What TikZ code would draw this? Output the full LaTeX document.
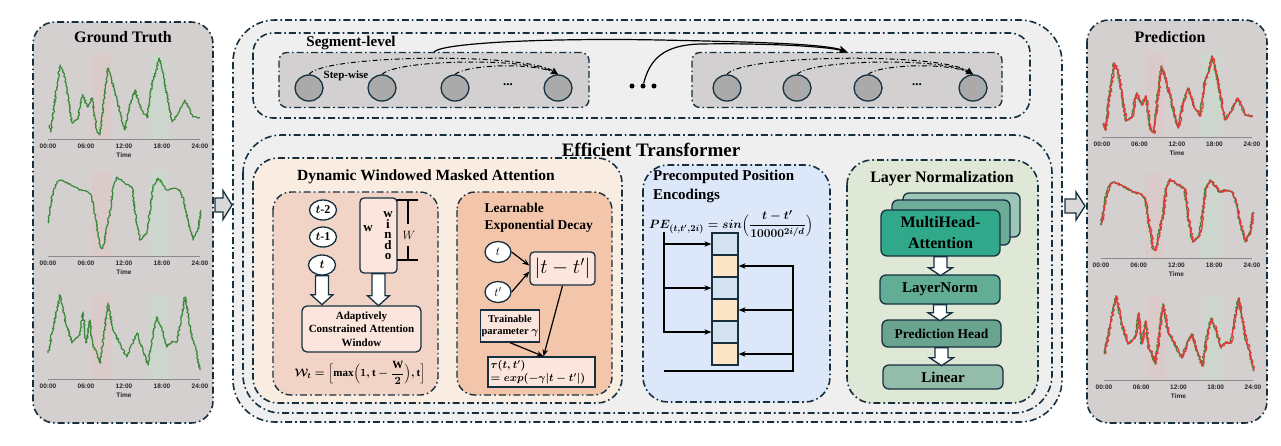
\documentclass[tikz,border=0pt]{standalone}
\usepackage{amsmath}
\usepackage{fontspec}
\setmainfont{Liberation Serif}
\setsansfont{Liberation Sans}
\usetikzlibrary{shapes.geometric,arrows.meta,decorations.pathmorphing,calc}
\definecolor{dk}{HTML}{163040}
\definecolor{sidegray}{HTML}{D4D0D0}
\definecolor{outergray}{HTML}{EFEFEF}
\definecolor{seggray}{HTML}{D2D0D0}
\definecolor{circgray}{HTML}{AAAAAA}
\definecolor{dynfill}{HTML}{F9ECE1}
\definecolor{dynleft}{HTML}{F2D4C7}
\definecolor{dynright}{HTML}{F3C5AA}
\definecolor{lightbox}{HTML}{FBE5DC}
\definecolor{pefill}{HTML}{DCE7FA}
\definecolor{lnfill}{HTML}{DFE8D6}
\definecolor{cellblue}{HTML}{D3E2EE}
\definecolor{cellyel}{HTML}{FAE6C4}
\definecolor{mhaA}{HTML}{2FA98A}
\definecolor{mhaB}{HTML}{6DAD97}
\definecolor{mhaC}{HTML}{9DC6B6}
\definecolor{lnbox}{HTML}{62AD95}
\definecolor{phbox}{HTML}{6BA48E}
\definecolor{linbox}{HTML}{94BCAA}
\definecolor{gtgreen}{HTML}{3A8A3A}
\definecolor{predred}{HTML}{E2383C}
\definecolor{bandpink}{HTML}{DBCACA}
\definecolor{bandgreen}{HTML}{CDD6CC}
\definecolor{axgray}{HTML}{8A8A8A}
\definecolor{sidearr}{HTML}{D9D9D9}

\newsavebox{\bxWt}
\newsavebox{\bxPE}
\newsavebox{\bxTau}
\newsavebox{\bxAbs}

% hollow block arrows: #1 start point, #2 length, #3 shaft half width, #4 head half width, #5 head length
\newcommand{\dArrow}[5]{\draw[blockarrow, shift={(#1)}] (-#3,0) -- (-#3,#2-#5) -- (-#4,#2-#5) -- (0,#2) -- (#4,#2-#5) -- (#3,#2-#5) -- (#3,0) -- cycle;}
\newcommand{\rArrow}[5]{\draw[blockarrow, fill=sidearr, shift={(#1)}] (0,-#3) -- (#2-#5,-#3) -- (#2-#5,-#4) -- (#2,0) -- (#2-#5,#4) -- (#2-#5,#3) -- (0,#3) -- cycle;}

\newcommand{\chartframe}{%
  \fill[bandpink] (44.33,-85) rectangle (63.33,0);
  \fill[bandgreen] (101.33,-85) rectangle (120.33,0);
  \draw[axgray, line width=0.9pt] (0,0) -- (152,0);
  \foreach \h/\lab in {0/00:00,38/06:00,76/12:00,114/18:00,152/24:00}
    \node[ticklab] (lab\h) at (\h,7) {\lab};
  \node[ticklab] (labtime) at (76,16) {Time};
}
\newcommand{\mycurveA}[1]{\draw[#1] plot coordinates {(1,-14) (3,-7) (7,-40) (12,-74) (15,-68) (18,-55) (21,-35) (24,-16) (30,-20) (33,-38) (35,-44) (38,-36) (40,-32) (44,-41) (47,-20) (49,-7) (52,-4) (56,-40) (60,-71) (64,-58) (69,-39) (73,-22) (77,-9) (82,-35) (87,-49) (93,-30) (99,-21) (104,-56) (108,-68) (111,-81) (114,-70) (118,-50) (124,-17) (130,-25) (137,-39) (145,-22) (152,-21)};}
\newcommand{\mycurveB}[1]{\draw[#1] plot coordinates {(0,-33) (4,-60) (9,-74) (12,-76) (22,-72) (32,-66) (40,-64) (44,-59) (49,-29) (52,-9) (55,-8) (58,-25) (62,-43) (65,-69) (69,-79) (76,-74) (84,-69) (87,-43) (92,-16) (99,-23) (102,-45) (105,-69) (110,-78) (119,-66) (125,-68) (132,-66) (136,-55) (139,-39) (145,-16) (150,-26) (153,-46)};}
\newcommand{\mycurveC}[1]{\draw[#1] plot coordinates {(0,-26) (6,-55) (12,-84) (18,-55) (24,-36) (32,-44) (35,-67) (38,-36) (42,-59) (45,-32) (48,-28) (52,-16) (56,-45) (60,-76) (65,-49) (72,-35) (79,-22) (84,-35) (89,-46) (95,-28) (100,-14) (104,-40) (109,-62) (114,-50) (119,-32) (124,-38) (129,-37) (133,-60) (137,-82) (141,-60) (144,-42) (148,-30) (152,-9)};}

\begin{document}
\sbox{\bxWt}{\fontsize{11}{13}\selectfont\boldmath$\mathcal{W}_{t}=\Bigl[\max\Bigl(1,\mathrm{t}-\dfrac{\mathrm{W}}{2}\Bigr),\mathrm{t}\Bigr]$}
\sbox{\bxPE}{\fontsize{13}{15}\selectfont\boldmath$PE_{(t,t',2i)}=sin\Bigl(\dfrac{t-t'}{10000^{2i/d}}\Bigr)$}
\sbox{\bxTau}{\fontsize{10.5}{13}\selectfont\boldmath\begin{tabular}{@{}l@{}}$\tau(t,t')$\\$=exp(-\gamma|t-t'|)$\end{tabular}}
\sbox{\bxAbs}{\fontsize{20}{20}\selectfont$|t-t'|$}
\begin{tikzpicture}[x=1pt,y=-1pt,
  dd/.style={draw=dk, line width=1.6pt, dash pattern=on 7pt off 3pt on 1.6pt off 3pt},
  ttl/.style={font=\bfseries\fontsize{16}{18}\selectfont},
  ticklab/.style={font=\sffamily\bfseries\fontsize{6.5}{7}\selectfont, text=black!85, inner sep=0pt},
  gtline/.style={gtgreen, line width=1.2pt, line join=round, decorate, decoration={random steps, segment length=1.1pt, amplitude=0.9pt}},
  prline/.style={predred, line width=1.2pt, line join=round, decorate, decoration={random steps, segment length=1.1pt, amplitude=1.2pt}},
  segbox/.style={dd, line width=1.4pt, fill=seggray, rounded corners=8pt, minimum width=310pt, minimum height=55pt},
  circ/.style={ellipse, draw=dk, line width=1.3pt, fill=circgray, minimum width=28pt, minimum height=26pt, inner sep=0pt},
  sarrow/.style={draw=black, line width=1pt, dash pattern=on 5pt off 2.5pt on 1pt off 2.5pt, -{Stealth[length=7pt,width=6pt]}},
  segarr/.style={draw=black, line width=1.2pt, -{Stealth[length=8pt,width=7pt]}},
  tok/.style={ellipse, draw=dk, line width=1.3pt, fill=white, minimum width=27pt, minimum height=20pt, inner sep=0pt, font=\bfseries\fontsize{12}{12}\selectfont},
  arr/.style={draw=black, line width=1.2pt, -{Stealth[length=7pt,width=5.5pt]}},
  plainbox/.style={draw=dk, line width=1.3pt},
  cell/.style={draw=dk, line width=1.2pt, minimum width=26pt, minimum height=22pt, inner sep=0pt},
  card/.style={draw=dk, line width=1.3pt, rounded corners=6pt},
  blockarrow/.style={draw=dk, line width=1.3pt, fill=white, line join=miter}
]
\pgfmathsetseed{7}
\useasboundingbox (0,0) rectangle (1281,445);

% ---------- side panels ----------
\draw[dd, fill=sidegray, rounded corners=22pt] (33,22) rectangle (213,423);
\draw[dd, fill=sidegray, rounded corners=22pt] (1087,20) rectangle (1267,423);
\node[ttl] (gtt) at (123,37) {Ground Truth};
\node[ttl] (prt) at (1170,37) {Prediction};

% ground truth charts
\begin{scope}[shift={(48,139)}] \chartframe \mycurveA{gtline} \end{scope}
\begin{scope}[shift={(48,256)}] \chartframe \mycurveB{gtline} \end{scope}
\begin{scope}[shift={(48,379)}] \chartframe \mycurveC{gtline} \end{scope}
% prediction charts
\begin{scope}[shift={(1102,137)}, xscale=0.987] \chartframe \mycurveA{gtline} \begin{scope}[xshift=0.8pt]\mycurveA{prline}\end{scope} \end{scope}
\begin{scope}[shift={(1101,258)}, xscale=0.993] \chartframe \mycurveB{gtline} \begin{scope}[xshift=0.8pt]\mycurveB{prline}\end{scope} \end{scope}
\begin{scope}[shift={(1104,380)}, xscale=0.98] \chartframe \mycurveC{gtline} \begin{scope}[xshift=0.8pt]\mycurveC{prline}\end{scope} \end{scope}

% ---------- central frames ----------
\draw[dd, fill=outergray, rounded corners=42pt] (233,20) rectangle (1062,422);
\draw[dd, rounded corners=38pt] (243,135) rectangle (1052,413);
\draw[dd, rounded corners=20pt] (253,33) rectangle (1030,118);

\coordinate (la) at (215,205);
\coordinate (ra) at (1065,206);
\rArrow{la}{17}{7}{14.5}{9}
\rArrow{ra}{20}{7}{14}{9}

% ---------- segment level ----------
\node[segbox] (seg1) at (434,80) {};
\node[segbox] (seg2) at (847,80) {};
\node[font=\bfseries\fontsize{15}{17}\selectfont] (segt) at (351,43) {Segment-level};
\foreach \n/\x in {11/309,12/382,13/455,14/558,21/727,22/797,23/868,24/973}
  \node[circ] (c\n) at (\x,88) {};
\node[font=\bfseries\fontsize{13}{13}\selectfont] (ell1) at (508,85) {...};
\node[font=\bfseries\fontsize{13}{13}\selectfont] (ell2) at (917,85) {...};
\foreach \i/\x in {1/632,2/643,3/654}
  \node[circle, fill=black, inner sep=0pt, minimum size=5pt] (d\i) at (\x,86) {};
\draw[sarrow] (c11.north) .. controls +(15,-20) and +(-30,-22) .. (c14.north);
\draw[sarrow] (c12.north) .. controls +(15,-15) and +(-30,-17) .. (c14.north);
\draw[sarrow] (c13.north) .. controls +(12,-10) and +(-25,-12) .. (c14.north);
\draw[sarrow] (c21.north) .. controls +(15,-20) and +(-30,-22) .. (c24.north);
\draw[sarrow] (c22.north) .. controls +(15,-15) and +(-30,-17) .. (c24.north);
\draw[sarrow] (c23.north) .. controls +(12,-10) and +(-25,-12) .. (c24.north);
\node[font=\bfseries\fontsize{11}{12}\selectfont, inner sep=1pt] (stw) at (346,76) {Step-wise};
\draw[segarr] (seg1.north) .. controls (445,42) and (560,38) .. (660,40) .. controls (760,42) and (825,44) .. (seg2.north);
\draw[segarr] (d2) .. controls (650,58) and (665,45) .. (700,44) .. controls (760,43) and (825,46) .. (seg2.north);

% ---------- efficient transformer ----------
\node[font=\bfseries\fontsize{19}{22}\selectfont] (ett) at (651,150) {Efficient Transformer};

% Dynamic windowed masked attention
\draw[dd, fill=dynfill, rounded corners=25pt] (253,158) rectangle (622,403);
\node[font=\bfseries\fontsize{15.5}{17}\selectfont] (dyt) at (426,177) {Dynamic Windowed Masked Attention};
\draw[dd, line width=1.4pt, fill=dynleft, rounded corners=18pt] (273,192) rectangle (438,395);
\draw[dd, line width=1.4pt, fill=dynright, rounded corners=18pt] (457,192) rectangle (612,395);

\node[tok] (tm2) at (323,210) {{\boldmath$t$}-2};
\node[tok] (tm1) at (323,237) {{\boldmath$t$}-1};
\node[tok] (t0) at (322,265) {{\boldmath$t$}};
\node[plainbox, fill=lightbox, rounded corners=4pt, minimum width=37pt, minimum height=75pt] (win) at (378.5,235.5) {};
\node[align=center, inner sep=0pt, font=\bfseries\fontsize{13}{10.5}\selectfont] (wint) at (388,236) {w\\i\\n\\d\\o};
\node[inner sep=0pt, font=\bfseries\fontsize{13}{13}\selectfont] (wint2) at (368,229) {w};
\coordinate (bt) at (408,200);
\coordinate (bb) at (408,260);
\draw[line width=1.3pt] ($(bt)+(-11,0)$) -- ($(bt)+(10,0)$) ($(bb)+(-11,0)$) -- ($(bb)+(10,0)$) (bt) -- ($(bt)+(0,24)$) ($(bb)+(0,-14)$) -- (bb);
\node[font=\fontsize{12}{12}\selectfont] (wl) at (409,235) {$W$};
\node[plainbox, fill=lightbox, rounded corners=5pt, minimum width=119pt, minimum height=46pt, align=center, inner sep=1pt, font=\bfseries\fontsize{11}{13.5}\selectfont] (adapt) at (361.5,329) {Adaptively\\Constrained Attention\\Window};
\dArrow{t0.south}{29}{6.5}{11}{10}
\dArrow{win.south}{32}{6.5}{11}{10}
\node[inner sep=0pt] (wf) at (360,373) {\usebox{\bxWt}};

\node[align=left, anchor=west, font=\bfseries\fontsize{13.5}{17}\selectfont] (led) at (481,218) {Learnable\\Exponential Decay};
\node[tok, minimum width=26pt, minimum height=21pt, font=\fontsize{13}{13}\selectfont] (tt) at (498,252) {$t$};
\node[tok, minimum width=26pt, minimum height=21pt, font=\fontsize{13}{13}\selectfont] (ttp) at (498,292) {$t'$};
\node[plainbox, fill=lightbox, rounded corners=4pt, minimum width=65pt, minimum height=33pt, inner sep=1pt] (abs) at (562.5,268.5) {\usebox{\bxAbs}};
\node[plainbox, fill=lightbox, minimum width=56pt, minimum height=32pt, inner sep=1pt, align=center, font=\bfseries\fontsize{10.5}{12}\selectfont] (trn) at (510,326) {Trainable\\parameter $\boldsymbol{\gamma}$};
\node[plainbox, fill=lightbox, minimum width=107pt, minimum height=30pt, inner sep=2pt] (tau) at (541.5,372) {};
\node[anchor=west, inner sep=0pt] (taut) at ($(tau.west)+(3,0)$) {\usebox{\bxTau}};
\draw[arr] (tt.east) -- ($(abs.west)+(0,-3)$);
\draw[arr] (ttp.east) -- ($(abs.west)+(0,3)$);
\draw[arr] (abs.south) -- ($(tau.north)+(2,0)$);
\draw[arr] (trn.south) -- ($(tau.north)+(2,0)$);

% Precomputed position encodings
\draw[dd, fill=pefill, rounded corners=25pt] (643,165) rectangle (830,402);
\node[align=left, anchor=north west, inner sep=0pt, font=\bfseries\fontsize{15}{19}\selectfont] (pet) at (653,170) {Precomputed Position\\Encodings};
\node[inner sep=0pt] (pef) at (731,224) {\usebox{\bxPE}};
\foreach \i/\y/\c in {1/244/cellblue,2/266/cellyel,3/288/cellblue,4/310/cellyel,5/332/cellblue,6/354/cellyel}
  \node[cell, fill=\c] (pe\i) at (725,\y) {};
\coordinate (lb) at (664,232);
\coordinate (bl) at (664,371);
\coordinate (rb) at (793,265);
\draw[arr] (lb) |- (pe5.west);
\draw[arr] (pe1.west -| lb) -- (pe1.west);
\draw[arr] (pe3.west -| lb) -- (pe3.west);
\draw[line width=1.2pt] (bl) -| (rb);
\draw[arr] (pe2.east -| rb) -- (pe2.east);
\draw[arr] (pe4.east -| rb) -- (pe4.east);
\draw[arr] (pe6.east -| rb) -- (pe6.east);

% Layer normalization
\draw[dd, fill=lnfill, rounded corners=25pt] (847,160) rectangle (1038,403);
\node[font=\bfseries\fontsize{16}{18}\selectfont] (lnt) at (942,179) {Layer Normalization};
\draw[card, fill=mhaC] (903,193) rectangle (1020,237);
\draw[card, fill=mhaB] (892,200) rectangle (1010,245);
\node[card, fill=mhaA, minimum width=119pt, minimum height=46pt, align=center, inner sep=1pt, font=\bfseries\fontsize{16}{21}\selectfont] (mh) at (940.5,233) {MultiHead-\\Attention};
\node[card, fill=lnbox, minimum width=120pt, minimum height=29pt, inner sep=1pt, font=\bfseries\fontsize{15}{15}\selectfont] (lnb) at (940,289.5) {LayerNorm};
\node[card, fill=phbox, minimum width=119pt, minimum height=27pt, inner sep=1pt, font=\bfseries\fontsize{13.5}{14}\selectfont] (ph) at (941.5,333.5) {Prediction Head};
\node[card, fill=linbox, minimum width=120pt, minimum height=24pt, inner sep=1pt, font=\bfseries\fontsize{15}{15}\selectfont] (lin) at (943,377) {Linear};
\dArrow{mh.south}{19}{6.5}{12}{8}
\dArrow{lnb.south}{16}{6.5}{12}{8}
\dArrow{ph.south}{18}{6.5}{12}{8}
\end{tikzpicture}
\end{document}
